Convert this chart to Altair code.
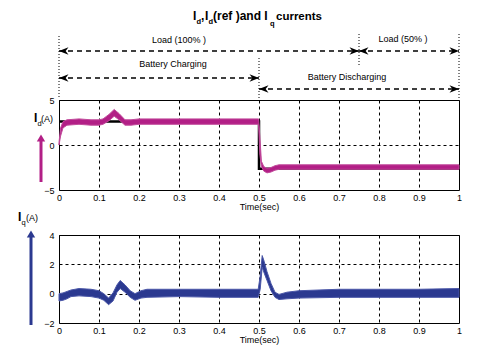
import altair as alt
import pandas as pd

# ---------------- data ----------------
# Id measured (magenta) - envelope of the noisy trace
id_t = [0, 0.004, 0.01, 0.02, 0.05, 0.08, 0.1, 0.11, 0.125, 0.138, 0.15, 0.165, 0.18, 0.2,
        0.25, 0.3, 0.35, 0.4, 0.45, 0.499, 0.502, 0.506, 0.512, 0.52, 0.53, 0.54, 0.55,
        0.6, 0.7, 0.8, 0.9, 1.0]
id_lo = [0.0, 1.0, 1.9, 2.2, 2.3, 2.2, 2.2, 2.3, 2.7, 3.2, 2.8, 2.2, 2.2, 2.3,
         2.3, 2.3, 2.3, 2.3, 2.3, 2.3, -1.0, -2.4, -2.9, -3.1, -3.0, -2.8, -2.7,
         -2.7, -2.7, -2.7, -2.7, -2.7]
id_hi = [0.3, 1.9, 2.6, 2.8, 2.9, 2.8, 2.8, 2.9, 3.4, 3.95, 3.5, 2.8, 2.8, 2.9,
         2.9, 2.9, 2.9, 2.9, 2.9, 2.9, 1.0, -1.8, -2.4, -2.6, -2.5, -2.3, -2.2,
         -2.2, -2.2, -2.2, -2.2, -2.2]

# Id reference (black step)
ref_t = [0, 0.5, 0.5, 1.0]
ref_v = [2.6, 2.6, -2.65, -2.65]

# Iq (blue) - envelope of the noisy trace
iq_t = [0, 0.01, 0.02, 0.03, 0.05, 0.08, 0.1, 0.112, 0.124, 0.135, 0.145, 0.153, 0.165,
        0.178, 0.19, 0.205, 0.22, 0.3, 0.4, 0.498, 0.503, 0.508, 0.513, 0.52, 0.53,
        0.54, 0.55, 0.57, 0.6, 0.7, 0.8, 0.9, 1.0]
iq_lo = [-0.5, -0.45, -0.35, -0.2, -0.15, -0.2, -0.3, -0.45, -0.75, -0.5, 0.1, 0.35, 0.1,
         -0.25, -0.45, -0.3, -0.25, -0.2, -0.25, -0.25, 0.3, 1.8, 1.4, 0.9, 0.2,
         -0.25, -0.4, -0.35, -0.3, -0.25, -0.25, -0.25, -0.25]
iq_hi = [0.0, 0.05, 0.15, 0.25, 0.35, 0.3, 0.2, 0.0, -0.3, 0.05, 0.6, 0.9, 0.6,
         0.2, 0.0, 0.2, 0.3, 0.3, 0.3, 0.3, 1.2, 2.6, 2.2, 1.5, 0.7,
         0.1, -0.05, 0.1, 0.2, 0.3, 0.3, 0.3, 0.35]

x_ticks = [0, 0.1, 0.2, 0.3, 0.4, 0.5, 0.6, 0.7, 0.8, 0.9, 1.0]
id_ticks = [-5, 0, 5]
iq_ticks = [-2, 0, 2, 4]

# annotation rows
ann_labels = ["Load (100% )", "Load (50% )", "Battery Charging", "Battery Discharging"]
ann_pos = [0.30, 0.86, 0.285, 0.72]
arrow_from = [0.0, 0.75, 0.0, 0.5]
arrow_to = [0.75, 1.0, 0.5, 1.0]
mark_times = [0.0, 0.5, 0.75, 1.0]

# ---------------- styling ----------------
FONT = "Liberation Sans, Arial, sans-serif"
MAG = "#b21f86"
MAG_EDGE = "#c24a9c"
BLUE = "#2b3990"
BLUE_EDGE = "#4b57a8"

xs = alt.Scale(domain=[0, 1], nice=False, zero=False)
xaxis = alt.Axis(values=x_ticks, format=".1~f", title="Time(sec)", labelFlush=False,
                 labelOverlap=False, ticks=False, domain=False, grid=True,
                 gridDash=[3, 3], gridColor="black", gridOpacity=1, labelPadding=3,
                 titlePadding=0, labelFont=FONT, labelFontSize=9, labelColor="black",
                 titleFont=FONT, titleFontSize=9, titleFontWeight="normal",
                 titleColor="black")
X = alt.X("t:Q", scale=xs, axis=xaxis)


def yaxis(vals):
    return alt.Axis(values=vals, title=None, labelFlush=False, labelOverlap=False,
                    ticks=False, domain=False, grid=True, gridDash=[3, 3],
                    gridColor="black", gridOpacity=1, labelPadding=5,
                    labelFont=FONT, labelFontSize=9, labelColor="black")


Y_ID = alt.Scale(domain=[-5, 5], nice=False, zero=False)
Y_IQ = alt.Scale(domain=[-2, 4], nice=False, zero=False)


def one(**kw):
    return pd.DataFrame({k: [v] for k, v in kw.items()})


def txt_t(label, t, py, size=9):
    return alt.Chart(one(t=t, label=label)).mark_text(
        font=FONT, fontSize=size, align="center", baseline="alphabetic", color="black"
    ).encode(x=X, y=alt.value(py), text="label:N")


def txt_px(label, px, py, size=10, weight="normal"):
    return alt.Chart(one(label=label)).mark_text(
        font=FONT, fontSize=size, fontWeight=weight, align="left",
        baseline="alphabetic", color="black"
    ).encode(x=alt.value(px), y=alt.value(py), text="label:N")


RIGHT_HEAD = "M0,0L-2,-0.8L-1.4,0L-2,0.8Z"
LEFT_HEAD = "M0,0L2,-0.8L1.4,0L2,0.8Z"


def arrow(t0, t1, py):
    line = alt.Chart(one(t=t0, t1=t1)).mark_rule(
        color="black", strokeWidth=1.3, strokeDash=[5, 4]
    ).encode(x=X, x2="t1:Q", y=alt.value(py))
    h1 = alt.Chart(one(t=t0)).mark_point(
        shape=LEFT_HEAD, filled=True, color="black", size=90, opacity=1
    ).encode(x=X, y=alt.value(py))
    h2 = alt.Chart(one(t=t1)).mark_point(
        shape=RIGHT_HEAD, filled=True, color="black", size=90, opacity=1
    ).encode(x=X, y=alt.value(py))
    return [line, h1, h2]


def vdots(t, a, b):
    return alt.Chart(one(t=t)).mark_rule(
        color="black", strokeWidth=1, strokeDash=[1, 2]
    ).encode(x=X, y=alt.value(a), y2=alt.value(b))


# ---------------- top panel: Id ----------------
id_df = pd.DataFrame({"t": id_t, "lo": id_lo, "hi": id_hi})
ref_df = pd.DataFrame({"t": ref_t, "v": ref_v, "i": list(range(len(ref_t)))})

ref_line = alt.Chart(ref_df).mark_line(color="black", strokeWidth=2.5).encode(
    x=X, y=alt.Y("v:Q", scale=Y_ID, axis=yaxis(id_ticks)), order="i:Q")
id_band = alt.Chart(id_df).mark_area(color=MAG, stroke=MAG_EDGE, strokeWidth=1).encode(
    x=X, y=alt.Y("lo:Q", scale=Y_ID, axis=yaxis(id_ticks)), y2="hi:Q")

top_layers = [ref_line, id_band]

# title pieces
top_layers += [
    txt_px("I", 134, -80, 12, "bold"),
    txt_px("d", 137.5, -76, 7.5, "bold"),
    txt_px(",", 142, -80, 12, "bold"),
    txt_px("I", 146, -80, 12, "bold"),
    txt_px("d", 149.5, -76, 7.5, "bold"),
    txt_px("(ref )and I", 154, -80, 12, "bold"),
    txt_px("q", 211, -74.5, 7.5, "bold"),
    txt_px("currents", 217, -80, 11.5, "bold"),
]

# annotations
top_layers += [
    txt_t(ann_labels[0], ann_pos[0], -57),
    txt_t(ann_labels[1], ann_pos[1], -58),
    txt_t(ann_labels[2], ann_pos[2], -33),
    txt_t(ann_labels[3], ann_pos[3], -20),
]
top_layers += arrow(arrow_from[0], arrow_to[0], -49)
top_layers += arrow(arrow_from[1], arrow_to[1], -49)
top_layers += arrow(arrow_from[2], arrow_to[2], -22)
top_layers += arrow(arrow_from[3], arrow_to[3], -11)
top_layers += [
    vdots(mark_times[0], -64, -2),
    vdots(mark_times[1], -42, -2),
    vdots(mark_times[2], -66, -34),
    vdots(mark_times[3], -66, -2),
]

# left label Id(A) + magenta arrow
top_layers += [
    txt_px("I", -25, 22, 12, "bold"),
    txt_px("d", -21.5, 25.5, 7.5),
    txt_px("(A)", -18, 22, 9),
    alt.Chart(one(a=0)).mark_rule(color=MAG, strokeWidth=3).encode(
        x=alt.value(-18), y=alt.value(40), y2=alt.value(82)),
    alt.Chart(one(a=0)).mark_point(shape="triangle-up", filled=True, color=MAG,
                                   opacity=1, size=70).encode(
        x=alt.value(-18), y=alt.value(38)),
]

top = alt.layer(*top_layers).properties(width=400, height=90)

# ---------------- bottom panel: Iq ----------------
iq_df = pd.DataFrame({"t": iq_t, "lo": iq_lo, "hi": iq_hi})
iq_band = alt.Chart(iq_df).mark_area(color=BLUE, stroke=BLUE_EDGE, strokeWidth=1).encode(
    x=X, y=alt.Y("lo:Q", scale=Y_IQ, axis=yaxis(iq_ticks)), y2="hi:Q")

bot_layers = [
    iq_band,
    txt_px("I", -41, -14, 12, "bold"),
    txt_px("q", -37.5, -10.5, 7.5),
    txt_px("(A)", -33, -14, 9),
    alt.Chart(one(a=0)).mark_rule(color=BLUE, strokeWidth=3).encode(
        x=alt.value(-28), y=alt.value(2), y2=alt.value(90)),
    alt.Chart(one(a=0)).mark_point(shape="triangle-up", filled=True, color=BLUE,
                                   opacity=1, size=70).encode(
        x=alt.value(-28), y=alt.value(-1)),
]
bottom = alt.layer(*bot_layers).properties(width=400, height=88)

chart = alt.vconcat(top, bottom, spacing=-2).properties(
    padding={"left": 9, "top": 1, "right": 0, "bottom": 0},
    background="white"
).configure_view(stroke="black", strokeWidth=1)

chart.save("out.html", embed_options={"renderer": "svg", "actions": False})
